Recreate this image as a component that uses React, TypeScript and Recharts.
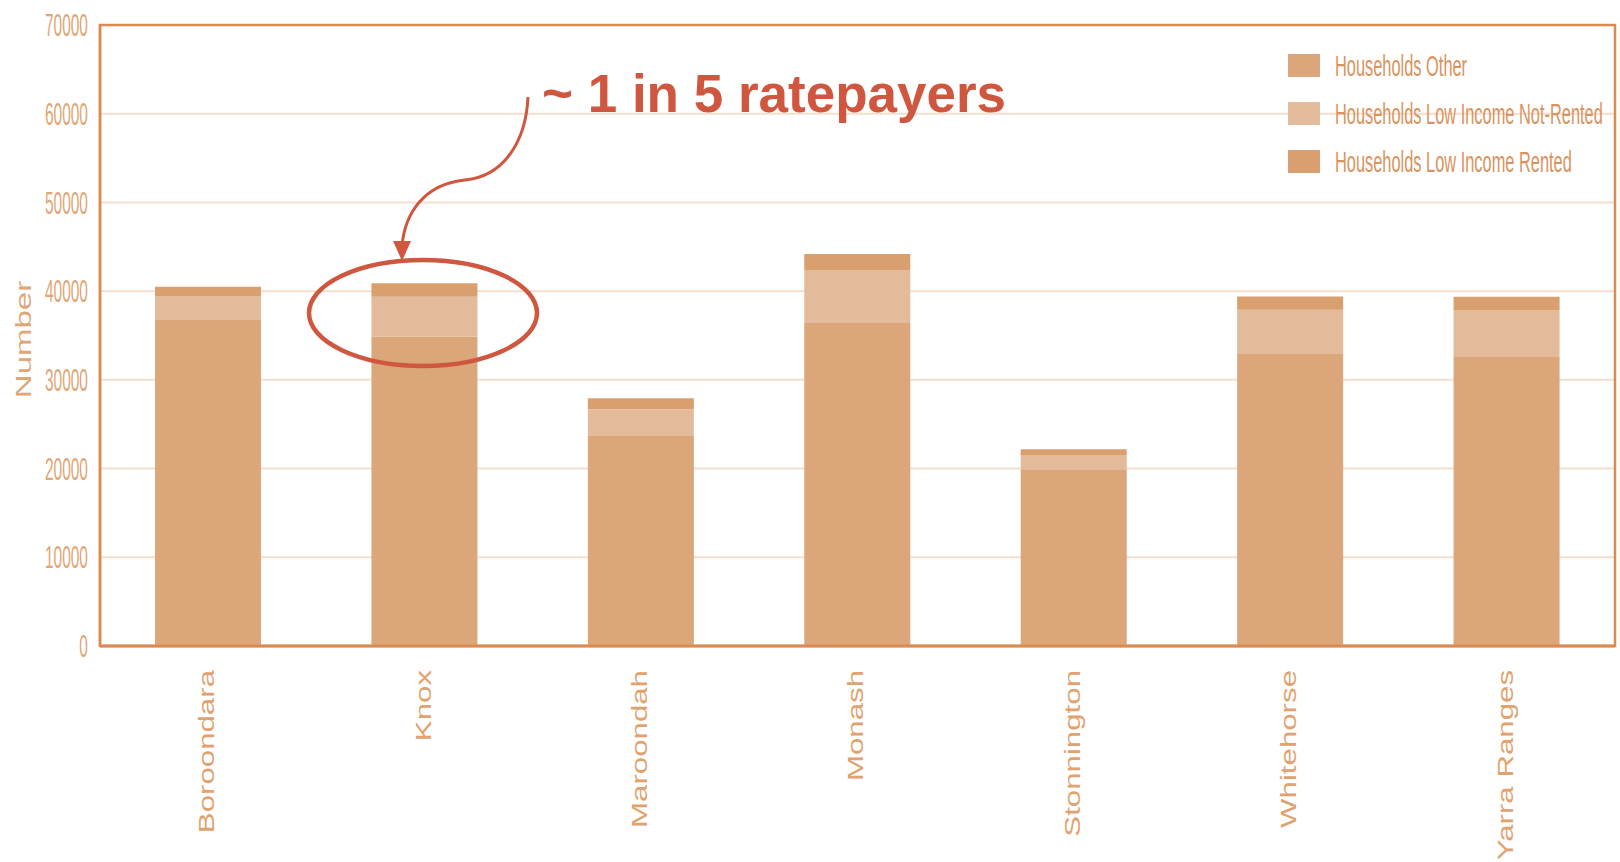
import React from 'react';
import { BarChart, Bar, XAxis, YAxis, CartesianGrid, ReferenceArea } from 'recharts';

const councils = ['Boroondara', 'Knox', 'Maroondah', 'Monash', 'Stonnington', 'Whitehorse', 'Yarra Ranges'];
const householdsOther = [36750, 34870, 23680, 36500, 19840, 33000, 32650];
const lowIncomeNotRented = [2700, 4510, 3010, 5890, 1690, 4890, 5230];
const lowIncomeRented = [1050, 1510, 1240, 1800, 640, 1500, 1500];
const yTicks = [0, 10000, 20000, 30000, 40000, 50000, 60000, 70000];
const seriesNames = ['Households Other', 'Households Low Income Not-Rented', 'Households Low Income Rented'];
const seriesColors = ['#dba67a', '#e4bb9a', '#d99f6e'];
const yAxisTitle = 'Number';
const annotationText = '~ 1 in 5 ratepayers';

const data = councils.map((c, i) => ({
  council: c,
  other: householdsOther[i],
  notRented: lowIncomeNotRented[i],
  rented: lowIncomeRented[i],
}));

const FONT = '"Liberation Sans", Arial, sans-serif';
const AXIS = '#d98b52';
const RED = '#d0573f';

const YTick = (props: any) => {
  const { x, y, payload } = props;
  return (
    <g transform={`translate(${x},${y})`}>
      <text transform="scale(0.5,1)" textAnchor="end" dy="0.36em" fontSize={31} fill="#e0a676" fontFamily={FONT}>
        {payload.value}
      </text>
    </g>
  );
};

const XTick = (props: any) => {
  const { x, y, payload } = props;
  return (
    <g transform={`translate(${x - 2},${y})`}>
      <text transform="rotate(-90) scale(1.42,1)" textAnchor="end" dy="0.36em" fontSize={22} fill="#e0a26e" fontFamily={FONT}>
        {payload.value}
      </text>
    </g>
  );
};

const YTitle = (props: any) => {
  const { viewBox } = props;
  const cx = viewBox.x + 23;
  const cy = viewBox.y + viewBox.height / 2 + 4;
  return (
    <g transform={`translate(${cx},${cy})`}>
      <text transform="rotate(-90) scale(1.5,1)" textAnchor="middle" dy="0.36em" fontSize={22} fill="#e0a676" fontFamily={FONT}>
        {yAxisTitle}
      </text>
    </g>
  );
};

export default function App() {
  return (
    <div style={{ position: 'absolute', left: 0, top: 0, width: 1620, height: 862, background: '#fff' }}>
      <BarChart
        width={1620}
        height={862}
        data={data}
        margin={{ top: 25, right: 5, left: 0, bottom: 0 }}
        barSize={106}
      >
        <CartesianGrid vertical={false} stroke="#f4dfcf" strokeWidth={2} />
        <XAxis
          dataKey="council"
          height={216}
          interval={0}
          tickLine={false}
          tickSize={0}
          tickMargin={24}
          axisLine={{ stroke: AXIS, strokeWidth: 3 }}
          tick={<XTick />}
        />
        <YAxis
          width={100}
          domain={[0, 70000]}
          ticks={yTicks}
          tickLine={false}
          tickSize={0}
          tickMargin={12}
          axisLine={{ stroke: AXIS, strokeWidth: 2.5 }}
          tick={<YTick />}
          label={{ content: <YTitle /> }}
        />
        <Bar dataKey="other" stackId="a" name={seriesNames[0]} fill={seriesColors[0]} isAnimationActive={false} />
        <Bar dataKey="notRented" stackId="a" name={seriesNames[1]} fill={seriesColors[1]} isAnimationActive={false} />
        <Bar dataKey="rented" stackId="a" name={seriesNames[2]} fill={seriesColors[2]} isAnimationActive={false} />
        <ReferenceArea y1={0} y2={70000} fill="none" fillOpacity={0} stroke={AXIS} strokeWidth={2.5} ifOverflow="visible" />
      </BarChart>

      <div style={{ position: 'absolute', left: 1288, top: 54, fontFamily: FONT }}>
        {seriesNames.map((n, i) => (
          <div key={n} style={{ position: 'relative', height: 48, display: 'flex', alignItems: 'flex-start' }}>
            <div style={{ width: 32, height: 23, background: seriesColors[i] }} />
            <span
              style={{
                position: 'absolute',
                left: 47,
                top: -5,
                fontSize: 29,
                lineHeight: '34px',
                color: '#d9935e',
                whiteSpace: 'nowrap',
                transform: 'scaleX(0.565)',
                transformOrigin: 'left center',
              }}
            >
              {n}
            </span>
          </div>
        ))}
      </div>

      <svg width={1620} height={862} style={{ position: 'absolute', left: 0, top: 0, pointerEvents: 'none' }}>
        <ellipse cx={423} cy={313} rx={114} ry={53} fill="none" stroke={RED} strokeWidth={4.5} />
        <path d="M528,97 C526,140 505,176 465,180 C425,184 405,212 402,246" fill="none" stroke={RED} strokeWidth={3} />
        <polygon points="393,241 411,241 402,261" fill={RED} />
        <text x={542} y={112} fontSize={53} fontWeight="bold" fill={RED} fontFamily={FONT}>
          {annotationText}
        </text>
      </svg>
    </div>
  );
}
